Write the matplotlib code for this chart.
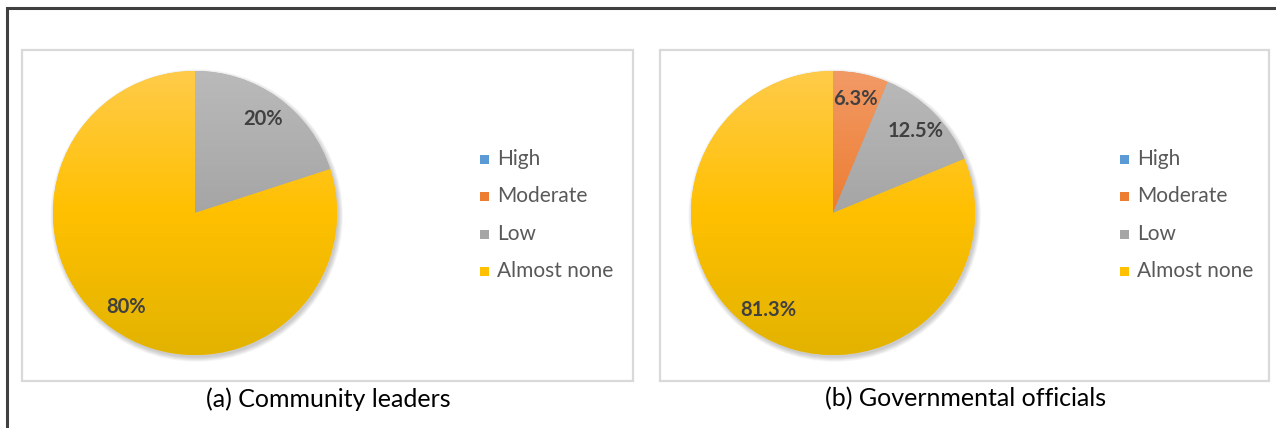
import numpy as np
import matplotlib
matplotlib.use("Agg")
import matplotlib.pyplot as plt
from matplotlib.patches import Rectangle, Circle
from matplotlib.colors import to_rgb

plt.rcParams['font.family'] = ['Lato', 'DejaVu Sans']

categories = ["High", "Moderate", "Low", "Almost none"]
leaders = [0.0, 0.0, 20.0, 80.0]
officials = [0.0, 6.3, 12.5, 81.3]
captions = ["(a) Community leaders", "(b) Governmental officials"]

colors = ["#5B9BD5", "#ED7D31", "#A5A5A5", "#FFC000"]
tops = ["#72AADD", "#F29A66", "#BABABA", "#FFCB4A"]
bottoms = ["#4A89C2", "#E06C1C", "#8E8E8E", "#E2B300"]

W, H = 1276, 428
fig = plt.figure(figsize=(W / 100, H / 100), dpi=100)
fig.patch.set_facecolor("white")

# pixel-space overlay for frames, legends and captions
bg = fig.add_axes([0, 0, 1, 1])
bg.set_xlim(0, W)
bg.set_ylim(H, 0)
bg.axis("off")

# outer frame (left and top edges)
bg.plot([7, 7, W + 5], [H + 5, 8, 8], color="#404040", lw=2.2,
        solid_joinstyle="miter", clip_on=False)

panels = [
    dict(box=(22, 50, 633, 381), center=(195, 213), r=142,
         leg_x=480, cap_x=328),
    dict(box=(660, 50, 1269, 381), center=(833, 213), r=142,
         leg_x=1120, cap_x=966),
]
series = [leaders, officials]
legend_rows = [159, 196, 234, 271]


def gradient_image(top, mid, bottom, n=256):
    t = np.linspace(0, 1, n)
    c0, c1, c2 = (np.array(to_rgb(c)) for c in (top, mid, bottom))
    img = np.empty((n, 2, 3))
    for i, s in enumerate(t):
        if s < 0.5:
            c = c0 + (c1 - c0) * (s / 0.5)
        else:
            c = c1 + (c2 - c1) * ((s - 0.5) / 0.5)
        img[i, :, :] = c
    return img


for p, vals, cap in zip(panels, series, captions):
    x0, y0, x1, y1 = p["box"]
    bg.add_patch(Rectangle((x0, y0), x1 - x0, y1 - y0, fill=False,
                           ec="#D9D9D9", lw=1.6))

    cx, cy = p["center"]
    r = p["r"]
    pad = 1.08
    ax = fig.add_axes([(cx - r * pad) / W, (H - cy - r * pad) / H,
                       2 * r * pad / W, 2 * r * pad / H])
    ax.axis("off")

    # soft shadow beneath the pie
    for k in range(6):
        ax.add_patch(Circle((0.012, -0.018), 1.0 + 0.006 * k,
                            color="black", alpha=0.035, lw=0, zorder=0))

    wedges, _ = ax.pie(vals, colors=colors, startangle=90, counterclock=False,
                       radius=1.0, wedgeprops=dict(lw=0))
    for w, v, tc, mc, bc in zip(wedges, vals, tops, colors, bottoms):
        w.set_zorder(1)
        if v <= 0:
            continue
        im = ax.imshow(gradient_image(tc, mc, bc), extent=(-1, 1, -1, 1),
                       aspect="auto", zorder=2, interpolation="bilinear")
        im.set_clip_path(w)
        theta = np.deg2rad((w.theta1 + w.theta2) / 2)
        ax.text(0.82 * np.cos(theta), 0.82 * np.sin(theta),
                f"{v:g}%", ha="center", va="center", fontsize=14.5,
                fontweight="bold", color="#404040", zorder=3)
    ax.set_xlim(-pad, pad)
    ax.set_ylim(-pad, pad)
    ax.set_aspect("auto")

    # legend
    lx = p["leg_x"]
    for name, col, ry in zip(categories, colors, legend_rows):
        bg.add_patch(Rectangle((lx, ry - 4.5), 9, 9, color=col, lw=0))
        bg.text(lx + 17, ry, name, ha="left", va="center", fontsize=15,
                color="#595959")

    bg.text(p["cap_x"], 399, cap, ha="center", va="center", fontsize=18,
            color="black")

fig.savefig("out.png", dpi=100, facecolor="white")
